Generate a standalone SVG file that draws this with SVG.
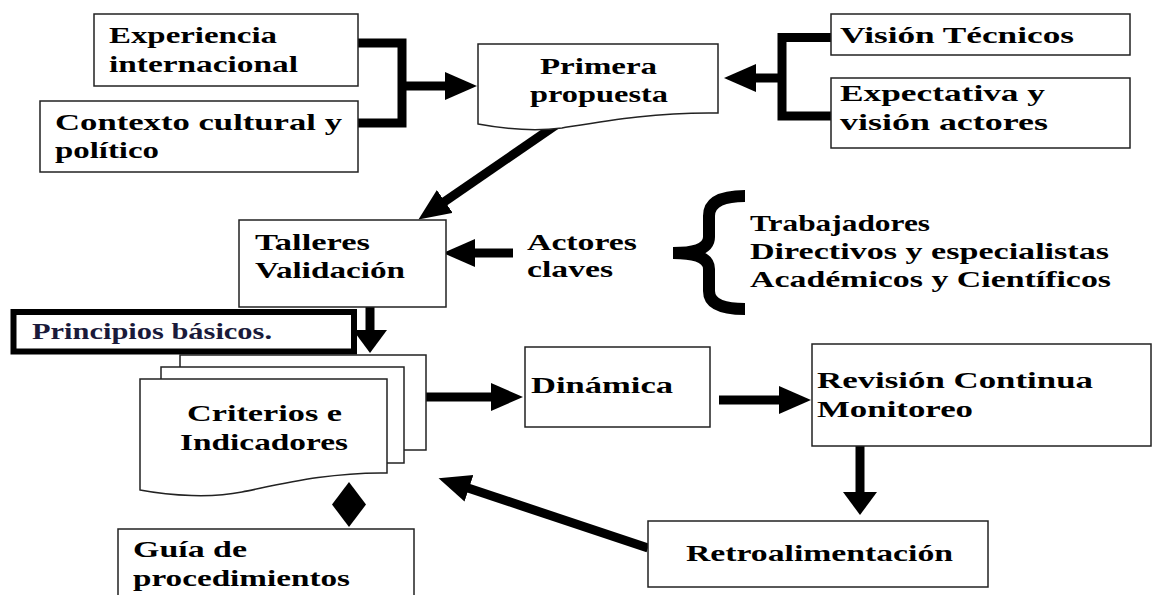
<svg xmlns="http://www.w3.org/2000/svg" width="1154" height="595" viewBox="0 0 1154 595">
<style>
.box{fill:#fff;stroke:#222;stroke-width:1.5}
.t{font-family:"Liberation Serif","Times New Roman",serif;font-weight:bold;font-size:24px;fill:#000}
.c{fill:none;stroke:#000;stroke-width:9}
.cf{fill:none;stroke:#000;stroke-width:9;stroke-linejoin:miter}
</style>
<defs>
<marker id="mA" markerUnits="userSpaceOnUse" markerWidth="34" markerHeight="30" refX="1" refY="14" orient="auto">
<path d="M0,0 L32,14 L0,28 Z" fill="#000"/>
</marker>
<marker id="mB" markerUnits="userSpaceOnUse" markerWidth="26" markerHeight="36" refX="1" refY="17" orient="auto">
<path d="M0,0 L23,17 L0,34 Z" fill="#000"/>
</marker>
</defs>
<rect width="1154" height="595" fill="#fff"/>

<g id="connectors">
<path class="cf" d="M358,43 H402 V123 H358"/>
<line class="c" x1="402" y1="86" x2="446" y2="86" marker-end="url(#mA)"/>
<path class="cf" d="M831,37.5 H782 V116 H831"/>
<line class="c" x1="782" y1="78" x2="755" y2="78" marker-end="url(#mA)"/>
<line class="c" x1="556" y1="125" x2="444" y2="202" marker-end="url(#mA)"/>
<line class="c" x1="513" y1="253" x2="474" y2="253" stroke-width="10" marker-end="url(#mA)"/>
<path d="M745,196 C722,196 709,202 709,216 L709,237 C709,247 700,253 673,253 C700,253 709,259 709,269 L709,291 C709,304 722,309 745,309" fill="none" stroke="#000" stroke-width="12"/>
<line class="c" x1="370" y1="307" x2="370" y2="331" stroke-width="12" marker-end="url(#mB)"/>
<line class="c" x1="426" y1="397" x2="492" y2="397" stroke-width="10" marker-end="url(#mA)"/>
<line class="c" x1="719" y1="400" x2="780" y2="400" stroke-width="10" marker-end="url(#mA)"/>
<line class="c" x1="860" y1="446" x2="860" y2="493" stroke-width="13" marker-end="url(#mB)"/>
<line class="c" x1="648" y1="548" x2="468" y2="488" marker-end="url(#mA)"/>
<path d="M349,482 L366,504.5 L349,527 L332,504.5 Z" fill="#000"/>
</g>

<g id="experiencia">
<rect class="box" x="94" y="14" width="264" height="72"/>
<text class="t" x="109" y="43" textLength="168" lengthAdjust="spacingAndGlyphs">Experiencia</text>
<text class="t" x="109" y="72" textLength="189" lengthAdjust="spacingAndGlyphs">internacional</text>
</g>
<g id="contexto">
<rect class="box" x="40" y="101" width="318" height="71"/>
<text class="t" x="55" y="130" textLength="287" lengthAdjust="spacingAndGlyphs">Contexto cultural y</text>
<text class="t" x="55" y="158" textLength="104" lengthAdjust="spacingAndGlyphs">político</text>
</g>
<g id="primera">
<path class="box" d="M478,44 H718 V113 C655,112 605,121 562,128 C532,132 505,129 478,124 Z"/>
<text class="t" x="540" y="74" textLength="117" lengthAdjust="spacingAndGlyphs">Primera</text>
<text class="t" x="530" y="102" textLength="138" lengthAdjust="spacingAndGlyphs">propuesta</text>
</g>
<g id="vision">
<rect class="box" x="831" y="14" width="299" height="41"/>
<text class="t" x="840" y="43" textLength="234" lengthAdjust="spacingAndGlyphs">Visión Técnicos</text>
</g>
<g id="expectativa">
<rect class="box" x="831" y="78" width="299" height="70"/>
<text class="t" x="840" y="101" textLength="205" lengthAdjust="spacingAndGlyphs">Expectativa y</text>
<text class="t" x="840" y="130" textLength="208" lengthAdjust="spacingAndGlyphs">visión actores</text>
</g>
<g id="talleres">
<rect class="box" x="239" y="220" width="207" height="87"/>
<text class="t" x="255" y="250" textLength="115" lengthAdjust="spacingAndGlyphs">Talleres</text>
<text class="t" x="255" y="278" textLength="150" lengthAdjust="spacingAndGlyphs">Validación</text>
</g>
<g id="actores">
<text class="t" x="527" y="250" textLength="110" lengthAdjust="spacingAndGlyphs">Actores</text>
<text class="t" x="527" y="277" textLength="86" lengthAdjust="spacingAndGlyphs">claves</text>
</g>
<g id="grupos">
<text class="t" x="750" y="231" textLength="180" lengthAdjust="spacingAndGlyphs">Trabajadores</text>
<text class="t" x="750" y="259" textLength="359" lengthAdjust="spacingAndGlyphs">Directivos y especialistas</text>
<text class="t" x="750" y="287" textLength="361" lengthAdjust="spacingAndGlyphs">Académicos y Científicos</text>
</g>
<g id="principios">
<rect x="13.5" y="312" width="340.5" height="39.5" fill="#fff" stroke="#000" stroke-width="6"/>
<text class="t" x="32" y="339" style="fill:#1a1a3a" textLength="240" lengthAdjust="spacingAndGlyphs">Principios básicos.</text>
</g>
<g id="criterios">
<rect class="box" x="180" y="355" width="246" height="95"/>
<rect class="box" x="161" y="367" width="243" height="96"/>
<path class="box" d="M140,379 H387 V473 C330,472 282,484 242,492 C212,498 172,496 140,490 Z"/>
<text class="t" x="187" y="421" textLength="155" lengthAdjust="spacingAndGlyphs">Criterios e</text>
<text class="t" x="180" y="450" textLength="168" lengthAdjust="spacingAndGlyphs">Indicadores</text>
</g>
<g id="dinamica">
<rect class="box" x="525" y="347" width="185" height="80"/>
<text class="t" x="531" y="393" textLength="142" lengthAdjust="spacingAndGlyphs">Dinámica</text>
</g>
<g id="revision">
<rect class="box" x="812" y="344" width="339" height="102"/>
<text class="t" x="817" y="388" textLength="276" lengthAdjust="spacingAndGlyphs">Revisión Continua</text>
<text class="t" x="817" y="417" textLength="156" lengthAdjust="spacingAndGlyphs">Monitoreo</text>
</g>
<g id="retro">
<rect class="box" x="648" y="521" width="340" height="66"/>
<text class="t" x="686" y="561" textLength="267" lengthAdjust="spacingAndGlyphs">Retroalimentación</text>
</g>
<g id="guia">
<rect class="box" x="118" y="529" width="296" height="80"/>
<text class="t" x="133" y="557" textLength="114" lengthAdjust="spacingAndGlyphs">Guía de</text>
<text class="t" x="133" y="586" textLength="217" lengthAdjust="spacingAndGlyphs">procedimientos</text>
</g>
</svg>
